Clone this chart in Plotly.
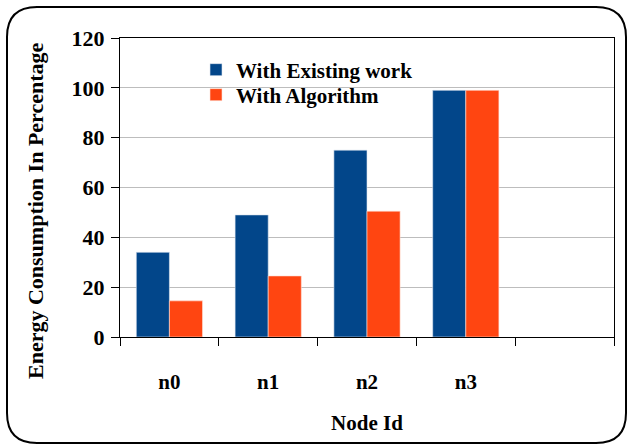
import plotly.graph_objects as go

categories = ["n0", "n1", "n2", "n3", " "]
existing_work = [34, 49, 75, 99, None]
with_algorithm = [14.5, 24.5, 50.5, 99, None]
y_ticks = [0, 20, 40, 60, 80, 100, 120]

W, H = 630, 447
L, R, T, B = 120, 16, 38, 110
pw, ph = W - L - R, H - T - B

def px(x):
    return (x - L) / pw

def py(y):
    return (H - B - y) / ph

font_family = "Liberation Serif, Times New Roman, serif"
bold = dict(family=font_family, weight="bold", color="black")

fig = go.Figure()
fig.add_trace(go.Bar(x=categories, y=existing_work, name="With Existing work", legend="legend",
                     marker=dict(color="#02468A", line=dict(color="#dfe6f0", width=0.6))))
fig.add_trace(go.Bar(x=categories, y=with_algorithm, name="With Algorithm", legend="legend2",
                     marker=dict(color="#FF4511", line=dict(color="#ffe0d6", width=0.6))))

# rounded border
x0, x1, y0, y1, r = 7, 626, 7, 443, 30
path = (f"M {px(x0+r)} {py(y0)} L {px(x1-r)} {py(y0)} "
        f"Q {px(x1)} {py(y0)} {px(x1)} {py(y0+r)} "
        f"L {px(x1)} {py(y1-r)} Q {px(x1)} {py(y1)} {px(x1-r)} {py(y1)} "
        f"L {px(x0+r)} {py(y1)} Q {px(x0)} {py(y1)} {px(x0)} {py(y1-r)} "
        f"L {px(x0)} {py(y0+r)} Q {px(x0)} {py(y0)} {px(x0+r)} {py(y0)} Z")

leg_common = dict(xanchor="left", yanchor="middle", bgcolor="rgba(0,0,0,0)",
                  font=dict(size=21, **bold), itemwidth=30)

fig.update_layout(
    width=W, height=H,
    margin=dict(l=L, r=R, t=T, b=B, autoexpand=False),
    paper_bgcolor="white", plot_bgcolor="white",
    barmode="group", bargap=0.33, bargroupgap=0,
    font=dict(size=20, **bold),
    showlegend=True,
    legend=dict(x=px(196), y=py(70), **leg_common),
    legend2=dict(x=px(196), y=py(95), **leg_common),
    shapes=[dict(type="path", path=path, xref="paper", yref="paper",
                 line=dict(color="black", width=2))],
    annotations=[dict(text="Energy Consumption In Percentage", textangle=-90,
                      x=px(35), y=py(211), xref="paper", yref="paper",
                      xanchor="center", yanchor="middle", showarrow=False,
                      font=dict(size=22, **bold))],
    xaxis=dict(type="category", categoryorder="array", categoryarray=categories,
               tickson="boundaries", ticks="outside", ticklen=8, tickcolor="black",
               showline=True, linecolor="black", linewidth=1, mirror=True,
               automargin=False, ticklabelstandoff=26,
               tickfont=dict(size=21, **bold),
               title=dict(text="Node Id", standoff=22, font=dict(size=21, **bold)),
               showgrid=False),
    yaxis=dict(range=[0, 120], tickvals=y_ticks, ticks="outside", ticklen=8,
               tickcolor="black", showline=True, linecolor="black", linewidth=1,
               mirror=True, gridcolor="#bdbdbd", gridwidth=1, automargin=False,
               ticklabelstandoff=2,
               tickfont=dict(size=22, **bold)),
)

fig.write_html("out.html", config={"displayModeBar": False},
               post_script="document.body.style.margin='0px';")
